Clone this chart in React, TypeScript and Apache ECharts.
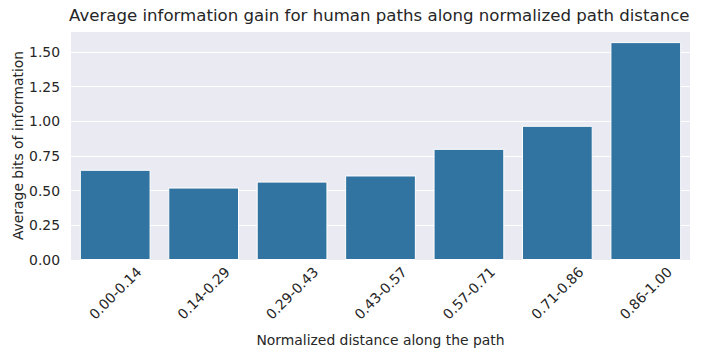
import React, { useEffect, useRef } from "react";
import * as echarts from "echarts";

const categories = ["0.00-0.14", "0.14-0.29", "0.29-0.43", "0.43-0.57", "0.57-0.71", "0.71-0.86", "0.86-1.00"];
const values = [0.65, 0.522, 0.565, 0.609, 0.801, 0.967, 1.57];
const yTicks = [0, 0.25, 0.5, 0.75, 1.0, 1.25, 1.5];

const FONT = "DejaVu Sans";
const TEXT = "#262626";

export default function App() {
  const ref = useRef<HTMLDivElement>(null);
  useEffect(() => {
    if (!ref.current) return;
    const chart = echarts.init(ref.current, undefined, { renderer: "svg" });
    chart.setOption({
      animation: false,
      title: {
        text: "Average information gain for human paths along normalized path distance",
        left: 64,
        top: 2,
        textStyle: { fontFamily: FONT, fontSize: 16.6, fontWeight: "normal", color: TEXT },
      },
      grid: {
        left: 71,
        top: 31,
        right: 11,
        bottom: 97,
        show: true,
        backgroundColor: "#eaeaf2",
        borderWidth: 0,
        outerBoundsMode: "none",
        containLabel: false,
      },
      xAxis: {
        type: "category",
        data: categories,
        name: "Normalized distance along the path",
        nameLocation: "middle",
        nameGap: 73,
        nameMoveOverlap: false,
        nameTextStyle: { fontFamily: FONT, fontSize: 13.9, color: TEXT },
        axisLine: { show: false },
        axisTick: { show: false },
        splitLine: { show: false },
        axisLabel: {
          rotate: 45,
          align: "center",
          verticalAlign: "middle",
          margin: 33,
          fontFamily: FONT,
          fontSize: 13.9,
          color: TEXT,
        },
      },
      yAxis: {
        type: "value",
        min: 0,
        max: 1.65,
        interval: 0.25,
        name: "Average bits of information",
        nameLocation: "middle",
        nameGap: 46,
        nameMoveOverlap: false,
        nameTextStyle: { fontFamily: FONT, fontSize: 13.9, color: TEXT },
        axisLine: { show: false },
        axisTick: { show: false },
        splitLine: { show: true, lineStyle: { color: "#ffffff", width: 1 } },
        axisLabel: {
          margin: 11,
          fontFamily: FONT,
          fontSize: 13.9,
          color: TEXT,
          showMaxLabel: false,
          formatter: (v: number) => (yTicks.some((t) => Math.abs(t - v) < 1e-6) ? v.toFixed(2) : ""),
        },
      },
      series: [
        {
          type: "bar",
          data: values,
          barCategoryGap: "20%",
          itemStyle: { color: "#3274a1", borderColor: "#ffffff", borderWidth: 1 },
        },
      ],
    });
    return () => chart.dispose();
  }, []);
  return <div ref={ref} style={{ width: 701, height: 357, margin: -8 }} />;
}
